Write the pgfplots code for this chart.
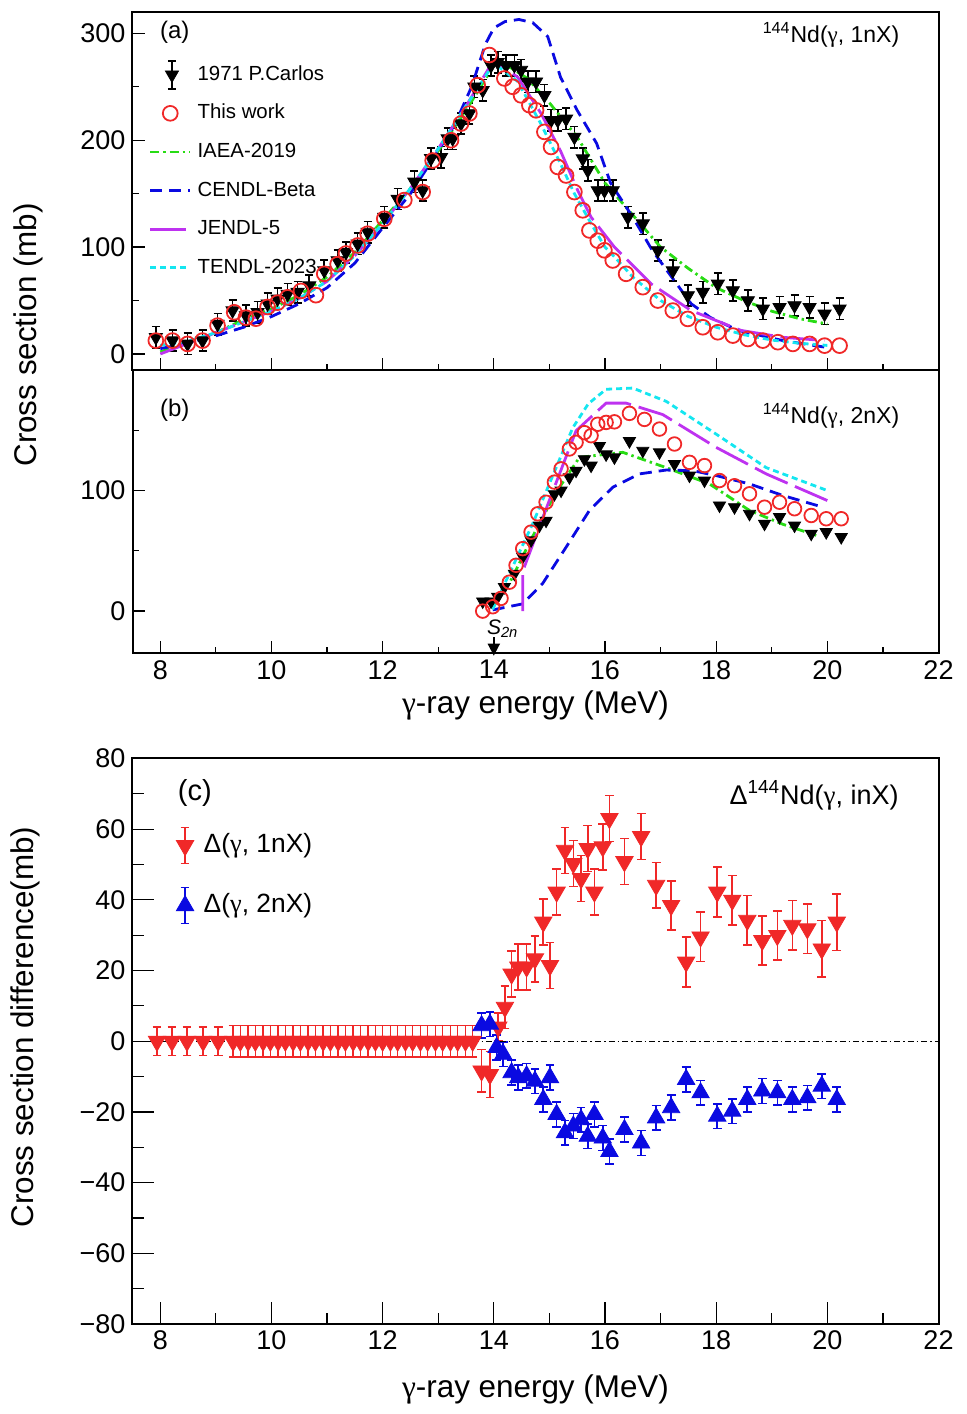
\documentclass[border=0pt]{standalone}
\usepackage{pgfplots}
\pgfplotsset{compat=1.18}
\usepackage{fontspec}
\setmainfont{Liberation Sans}
\newfontfamily\gfont{Liberation Serif}
\newcommand{\g}{{\gfont γ}}
\usetikzlibrary{arrows.meta}
\definecolor{cRed}{RGB}{240,40,40}
\definecolor{cBlue}{RGB}{10,10,225}
\definecolor{cGreen}{RGB}{40,220,20}
\definecolor{cMag}{RGB}{190,50,240}
\definecolor{cCyan}{RGB}{20,230,240}

\pgfplotsset{
  rootstyle/.style={
    scale only axis, width=403pt,
    xmin=7.5, xmax=22,
    axis line style={line width=1pt},
    tick style={line width=0.6pt, black},
    xtick pos=bottom, ytick pos=left, tick align=inside,
    /pgf/number format/assume math mode=true,
    ticklabel style={font=\fontsize{13.5}{16}\selectfont},
    xtick={8,10,...,22}, minor xtick={9,11,...,21},
    label style={font=\fontsize{15.7}{18}\selectfont},
  },
  iaea/.style={cGreen, line width=1.4pt, dash pattern=on 4.5pt off 2pt on 1.2pt off 2pt},
  cendl/.style={cBlue, line width=1.4pt, dash pattern=on 6pt off 3.5pt},
  jendl/.style={cMag, line width=1.4pt, dash pattern=on 18pt off 4pt},
  tendl/.style={cCyan, line width=1.4pt, dash pattern=on 3pt off 2pt},
}

\pgfplotstableread{
x y
7.92 15.6
8.22 12.5
8.49 9.4
8.76 12.5
9.03 28
9.30 40.6
9.54 36
9.75 39
9.93 47
10.11 51.6
10.29 56
10.47 57.8
10.68 64
10.95 78
11.19 87.5
11.34 95
11.55 103
11.73 114
12.03 128
12.27 145
12.57 161
12.72 153
12.87 183
13.05 184
13.17 201.5
13.26 201.5
13.41 215.6
13.56 225
13.65 250
13.80 246.8
13.95 270
14.07 273
14.22 270
14.37 270
14.49 265.6
14.61 254.7
14.76 254.7
14.91 242
15.03 218.7
15.15 218.7
15.30 220
15.45 203
15.60 182.8
15.69 171.8
15.87 153
15.99 153
16.14 153
16.41 128
16.68 121.9
16.95 96.8
17.22 78
17.49 54.7
17.76 57.8
18.03 65.6
18.30 59.4
18.57 50
18.84 42.2
19.14 43.7
19.41 45.3
19.68 43.7
19.95 37.5
20.22 42.2
}\carlosA

\pgfplotstableread{
x y
7.92 12.5
8.22 12.5
8.49 9.4
8.76 12.5
9.03 26.5
9.33 39
9.54 34
9.72 33
9.93 44
10.11 48
10.29 53
10.53 59
10.80 55
10.95 75
11.19 84
11.34 94
11.55 101.5
11.73 112.5
12.03 126.5
12.39 144
12.72 151.5
12.90 181
13.23 200
13.41 215.6
13.56 225
13.71 251.5
13.92 279.7
14.19 257.8
14.34 250
14.49 242
14.64 232.8
14.76 228
14.91 207.8
15.03 193.7
15.15 175
15.30 167
15.45 151.5
15.60 134.4
15.72 115.6
15.87 106
15.99 97
16.14 87.5
16.38 75
16.68 62.5
16.95 50
17.22 40.6
17.49 32.8
17.76 25
18.03 20.3
18.30 17.2
18.57 14
18.84 12.5
19.11 11
19.38 9.4
19.68 9.4
19.95 7.8
20.22 7.8
}\workA

\pgfplotstableread{
x y
13.80 8
13.95 8
14.07 11.8
14.19 20
14.37 31
14.52 45
14.67 58.7
14.82 71
14.94 75
15.09 97
15.21 100
15.36 111
15.48 116.5
15.63 126
15.75 120.7
15.90 137
16.02 130
16.17 127.5
16.44 141
16.68 133
16.98 131.7
17.25 122
17.52 112.4
17.79 108.3
18.06 87.6
18.33 86.2
18.60 80.7
18.87 72.5
19.14 78
19.41 71
19.71 64.2
19.98 65.5
20.25 61.4
}\carlosB

\pgfplotstableread{
x y
13.80 0
13.98 3.6
14.13 10.5
14.28 24
14.40 38
14.52 51.8
14.67 65.5
14.79 80.7
14.94 90.3
15.09 107
15.21 118
15.36 134.5
15.48 140
15.63 148
15.75 145.5
15.87 155
16.02 156.5
16.17 157
16.44 164
16.71 159
16.98 151
17.25 138.6
17.52 123.4
17.79 120.7
18.06 108.3
18.33 104
18.60 97.3
18.87 86.2
19.14 90.3
19.41 84.9
19.71 79.3
19.98 76.6
20.25 76.6
}\workB

\pgfplotstableread{
x y e
7.94 0 4
8.21 0 4
8.48 0 4
8.77 0 4
9.04 0 4
9.31 0 4.5
9.44 0 4.5
9.58 0 4.5
9.71 0 4.5
9.85 0 4.5
9.98 0 4.5
10.12 0 4.5
10.25 0 4.5
10.39 0 4.5
10.52 0 4.5
10.66 0 4.5
10.79 0 4.5
10.93 0 4.5
11.06 0 4.5
11.20 0 4.5
11.33 0 4.5
11.47 0 4.5
11.60 0 4.5
11.74 0 4.5
11.87 0 4.5
12.00 0 4.5
12.14 0 4.5
12.27 0 4.5
12.41 0 4.5
12.54 0 4.5
12.68 0 4.5
12.81 0 4.5
12.95 0 4.5
13.08 0 4.5
13.22 0 4.5
13.35 0 4.5
13.49 0 4.5
13.62 0 4.5
13.78 -8.4 6
13.93 -9.4 6.5
14.08 4.0 4
14.20 9.6 6
14.32 19 6.5
14.44 21 6.5
14.59 21 6.5
14.74 23.3 6.5
14.89 33.7 6.5
15.01 21.4 6.5
15.13 42.2 6.5
15.28 54 6.5
15.43 50.3 6.5
15.57 46 6.5
15.69 54.5 6.5
15.81 42.2 6.5
15.96 55 6.5
16.08 63 6.5
16.35 50.8 6.5
16.65 57.9 6.5
16.92 44.1 6.5
17.19 38.4 7
17.46 22.4 7
17.72 29.5 7
18.02 42.2 7
18.29 39.9 7
18.56 34.2 7
18.83 28.5 7
19.10 29.9 7
19.37 32.8 7
19.64 31.8 7
19.90 26.1 8
20.17 33.7 8
}\deltaA

\pgfplotstableread{
x y e
13.78 4.4 3.5
13.93 4.8 3.5
14.05 -1.8 3.5
14.17 -3.7 3.5
14.32 -8.9 3.5
14.44 -10.3 3.5
14.59 -9.8 3.5
14.74 -11.3 3.5
14.89 -16.5 3.5
15.01 -10.3 3.5
15.13 -20.7 3.5
15.28 -25.9 3.5
15.43 -24 3.5
15.57 -22.2 3.5
15.69 -26.9 3.5
15.81 -20.7 3.5
15.96 -27.4 3.5
16.08 -31.2 3.5
16.35 -25 3.5
16.65 -28.8 3.5
16.92 -21.7 3.5
17.19 -18.8 3.5
17.46 -10.8 3.5
17.72 -14.6 3.5
18.02 -21.2 3.5
18.29 -19.8 3.5
18.56 -16.5 3.5
18.83 -14.1 3.5
19.10 -14.6 3.5
19.37 -16.5 3.5
19.64 -16 3.5
19.90 -12.7 3.5
20.17 -16.5 3.5
}\deltaB

\begin{document}
\begin{tikzpicture}
\useasboundingbox (0,0) rectangle (483pt,707pt);

% ---------------- panel (a)
\begin{axis}[rootstyle,
  at={(66.25pt,522pt)}, anchor=south west, height=179pt,
  ymin=-15, ymax=320,
  ytick={0,100,200,300}, minor ytick={50,150,250},
  major tick length=6pt, minor tick length=3pt,
  xticklabels={},
  ylabel={Cross section (mb)},
  ylabel style={at={(rel axis cs:-0.1297,0.098)}, anchor=center},
  legend style={at={(rel axis cs:0.0199,0.858)}, anchor=north west, draw=none, fill=none,
    font=\fontsize{10.2}{12}\selectfont, row sep=7.8pt, column sep=2pt, inner sep=0pt,
    nodes={text height=7.5pt, text depth=2pt, inner sep=1pt}},
  legend cell align=left,
  legend image code/.code={\draw[mark repeat=2,mark phase=2] plot coordinates {(0cm,0cm) (0.35cm,0cm) (0.7cm,0cm)};},
]
\addplot[only marks, mark=triangle*, mark size=3.8pt, mark options={rotate=180, fill=black, draw=black}, black,
  legend image code/.code={%
    \draw[overlay,black,line width=0.9pt] (0.38cm,-7pt)--(0.38cm,7pt) (0.38cm-2pt,-7pt)--(0.38cm+2pt,-7pt) (0.38cm-2pt,7pt)--(0.38cm+2pt,7pt);
    \draw[mark repeat=2,mark phase=2] plot coordinates {(0.03cm,0cm) (0.38cm,0cm) (0.73cm,0cm)};},
  error bars/.cd, y dir=both, y fixed=10, error bar style={line width=0.8pt, black},
  error mark options={rotate=90, mark size=2pt, line width=0.8pt, black}]
  table[x=x,y=y] {\carlosA};
\addlegendentry{1971 P.Carlos}
\addplot[only marks, mark=o, mark size=3.7pt, cRed, mark options={line width=0.9pt}] table[x=x,y=y] {\workA};
\addlegendentry{This work}
\addplot[iaea] coordinates {(8,2) (8.5,10) (9,20) (9.5,32) (10,42) (10.5,55) (11,72) (11.5,95) (12,125) (12.5,155) (13,190) (13.5,228) (14,270) (14.3,268) (14.6,258) (15,235) (15.5,203) (16,160) (16.5,130) (17,100) (17.5,80) (18,62) (18.5,50) (19,40) (19.5,33) (20,28)};
\addlegendentry{IAEA-2019}
\addplot[cendl] coordinates {(8,5) (8.5,10) (9,17) (9.5,25) (10,35) (10.5,47) (11,62) (11.5,85) (12,118) (12.5,150) (13,190) (13.3,215) (13.6,250) (13.85,290) (14.0,305) (14.2,311) (14.45,313) (14.7,310) (14.97,297) (15.2,259) (15.5,228) (15.85,197) (16.1,160) (16.5,128) (16.85,97) (17.2,72) (17.55,47) (17.9,34) (18.4,22) (19.2,12.5) (20,6)};
\addlegendentry{CENDL-Beta}
\addplot[jendl] coordinates {(8,0) (8.5,10) (9,20) (9.5,30) (10,40) (10.5,52) (11,68) (11.5,92) (12,122) (12.5,155) (13,192) (13.5,232) (14,275) (14.43,259) (14.85,225) (15.2,190) (15.51,153) (15.75,128) (16.17,100) (16.83,65.6) (17.55,40.6) (18.45,22) (19.2,15.6) (19.95,12.5)};
\addlegendentry{JENDL-5}
\addplot[tendl] coordinates {(8,8) (8.5,12) (9,20) (9.5,30) (10,40) (10.5,52) (11,68) (11.5,92) (12,122) (12.5,155) (13,192) (13.5,232) (14,272) (14.43,255) (14.85,215) (15.2,178) (15.45,150) (15.75,122) (16,100) (16.23,87.5) (16.5,72) (17,50) (17.5,35) (18,25) (18.5,18) (19,13) (19.5,10) (20,8)};
\addlegendentry{TENDL-2023}
\node[font=\fontsize{12}{14}\selectfont] at (axis cs:8.26,301) {(a)};
\node[anchor=east, font=\fontsize{11.5}{14}\selectfont] at (axis cs:21.42,298.4) {\textsuperscript{144}Nd(\g, 1nX)};
\end{axis}

% ---------------- panel (b)
\begin{axis}[rootstyle,
  at={(66.25pt,380.35pt)}, anchor=south west, height=141.65pt,
  ymin=-35, ymax=200, clip=false,
  ytick={0,100}, minor ytick={50,150},
  major tick length=6pt, minor tick length=3pt,
  xlabel={\g-ray energy (MeV)},
  xlabel style={at={(rel axis cs:0.5,0)}, anchor=center, yshift=-26pt},
]
\addplot[only marks, mark=triangle*, mark size=3.5pt, mark options={rotate=180, fill=black, draw=black}, black] table[x=x,y=y] {\carlosB};
\addplot[only marks, mark=o, mark size=3.4pt, cRed, mark options={line width=0.9pt}] table[x=x,y=y] {\workB};
\addplot[iaea] coordinates {(13.98,3) (14.3,25) (14.7,62) (15.1,97) (15.54,127.5) (16.32,131.7) (17.1,119) (17.88,105.5) (18.6,83.5) (19.2,72) (19.8,62.8)};
\addplot[cendl] coordinates {(13.98,1) (14.52,6) (14.88,23) (15.30,53) (15.72,83.5) (16.14,102.7) (16.62,113.8) (17.10,117) (17.58,116.5) (18.0,112.4) (18.6,105.5) (19.2,95.9) (19.92,86.2)};
\addplot[jendl] coordinates {(14.52,0) (14.52,33) (15.0,92) (15.48,149.6) (16.02,172.5) (16.38,172.5) (17.04,163) (18.0,135.8) (18.9,113.8) (20.0,91.7)};
\addplot[tendl] coordinates {(13.98,1.5) (14.7,72.5) (15.42,152) (15.7,172) (16.02,184) (16.5,185) (17.1,174) (18.0,146.8) (18.9,119) (20.0,100)};
\draw[-{Triangle[length=6pt,width=6pt]}, line width=0.9pt] (axis cs:14,-21.5) -- (axis cs:14,-37);
\node[font=\fontsize{10.5}{12}\selectfont] at (axis cs:14.16,-14.5) {\textit{S}\textsubscript{\textit{2n}}};
\node[font=\fontsize{12}{14}\selectfont] at (axis cs:8.26,166.3) {(b)};
\node[anchor=east, font=\fontsize{11.5}{14}\selectfont] at (axis cs:21.42,162.2) {\textsuperscript{144}Nd(\g, 2nX)};
\end{axis}

% ---------------- panel (c)
\begin{axis}[rootstyle,
  at={(66.25pt,45pt)}, anchor=south west, height=282.8pt,
  ymin=-80, ymax=80,
  ytick={-80,-60,...,80}, minor ytick={-70,-50,...,70},
  yticklabels={−80,−60,−40,−20,0,20,40,60,80},
  major tick length=10.8pt, minor tick length=5.5pt,
  xlabel={\g-ray energy (MeV)},
  xlabel style={at={(rel axis cs:0.5,0)}, anchor=center, yshift=-32.5pt},
  ylabel={Cross section difference(mb)},
  ylabel style={at={(rel axis cs:-0.1334,0.525)}, anchor=center},
  legend style={at={(rel axis cs:0.054,0.873)}, anchor=north west, draw=none, fill=none,
    font=\fontsize{13.2}{15}\selectfont, row sep=15pt, column sep=4pt, inner sep=0pt,
    nodes={text height=10pt, text depth=3pt, inner sep=1pt}},
  legend cell align=left,
]
\addplot[cRed, only marks, mark=triangle*, mark size=5pt, mark options={rotate=180, fill=cRed, draw=cRed},
  legend image code/.code={%
    \draw[overlay,cRed,line width=0.8pt] (0.3cm,-9pt)--(0.3cm,9pt) (0.3cm-2.2pt,-9pt)--(0.3cm+2.2pt,-9pt) (0.3cm-2.2pt,9pt)--(0.3cm+2.2pt,9pt);
    \draw[mark repeat=2,mark phase=2] plot coordinates {(0cm,0cm) (0.3cm,0cm) (0.6cm,0cm)};},
  error bars/.cd, y dir=both, y explicit, error bar style={line width=0.8pt, cRed},
  error mark options={rotate=90, mark size=2.2pt, line width=0.8pt, cRed}]
  table[x=x,y=y,y error=e] {\deltaA};
\addlegendentry{Δ(\g, 1nX)}
\addplot[cBlue, only marks, mark=triangle*, mark size=5pt, mark options={fill=cBlue, draw=cBlue},
  legend image code/.code={%
    \draw[overlay,cBlue,line width=0.8pt] (0.3cm,-9pt)--(0.3cm,9pt) (0.3cm-2.2pt,-9pt)--(0.3cm+2.2pt,-9pt) (0.3cm-2.2pt,9pt)--(0.3cm+2.2pt,9pt);
    \draw[mark repeat=2,mark phase=2] plot coordinates {(0cm,0cm) (0.3cm,0cm) (0.6cm,0cm)};},
  error bars/.cd, y dir=both, y explicit, error bar style={line width=0.8pt, cBlue},
  error mark options={rotate=90, mark size=2.2pt, line width=0.8pt, cBlue}]
  table[x=x,y=y,y error=e] {\deltaB};
\addlegendentry{Δ(\g, 2nX)}
\addplot[black, line width=0.7pt, dash pattern=on 3pt off 1.5pt on 0.8pt off 1.5pt, forget plot] coordinates {(7.5,0) (22,0)};
\node[font=\fontsize{14.5}{17}\selectfont] at (axis cs:8.62,70.2) {(c)};
\node[anchor=east, font=\fontsize{13.5}{16}\selectfont] at (axis cs:21.41,69.6) {Δ\textsuperscript{144}Nd(\g, inX)};
\end{axis}
\end{tikzpicture}
\end{document}
